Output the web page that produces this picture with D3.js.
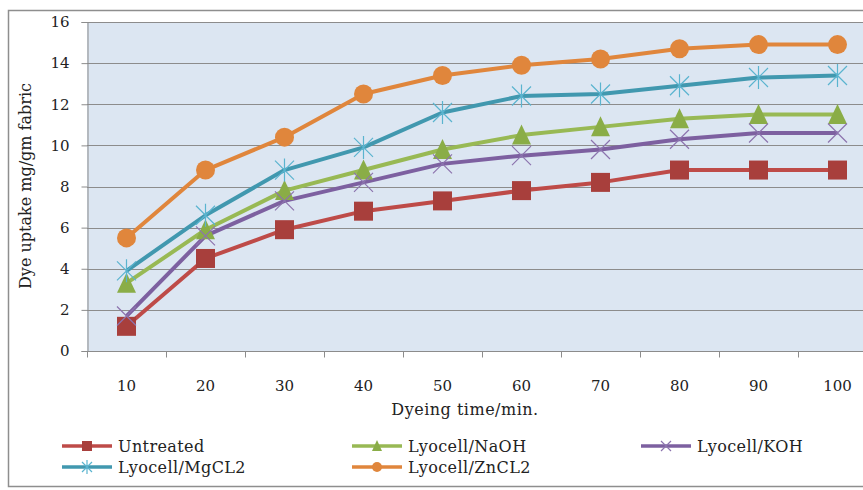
<!DOCTYPE html>
<html>
<head>
<meta charset="utf-8">
<script src="https://cdn.jsdelivr.net/npm/d3@7"></script>
<style>
  body { margin: 0; background: #fff; }
  svg { display: block; font-family: "DejaVu Serif", "Liberation Serif", serif; }
</style>
</head>
<body>
<svg id="chart" width="863" height="490"></svg>
<script>
// dyeing time categories (min)
const times = [10, 20, 30, 40, 50, 60, 70, 80, 90, 100];
const yTicks = [0, 2, 4, 6, 8, 10, 12, 14, 16];

// dye uptake, mg/gm fabric
const untreated = [1.2, 4.5, 5.9, 6.8, 7.3, 7.8, 8.2, 8.8, 8.8, 8.8];
const naoh      = [3.3, 5.9, 7.8, 8.8, 9.8, 10.5, 10.9, 11.3, 11.5, 11.5];
const koh       = [1.7, 5.6, 7.3, 8.2, 9.1, 9.5, 9.8, 10.3, 10.6, 10.6];
const mgcl2     = [3.9, 6.6, 8.8, 9.9, 11.6, 12.4, 12.5, 12.9, 13.3, 13.4];
const zncl2     = [5.5, 8.8, 10.4, 12.5, 13.4, 13.9, 14.2, 14.7, 14.9, 14.9];

const series = [
  { name: "Untreated",      values: untreated, color: "#BE4B48", marker: "square" },
  { name: "Lyocell/NaOH",   values: naoh,      color: "#98B954", marker: "triangle" },
  { name: "Lyocell/KOH",    values: koh,       color: "#7D60A0", marker: "x" },
  { name: "Lyocell/MgCL2",  values: mgcl2,     color: "#4198AF", marker: "star" },
  { name: "Lyocell/ZnCL2",  values: zncl2,     color: "#E0863C", marker: "circle" }
];

const margin = { left: 87, top: 22, right: 877, bottom: 351 };
const svg = d3.select("#chart");
const FS = 15;

// outer chart border
svg.append("rect")
  .attr("x", 8.5).attr("y", 10.5)
  .attr("width", 900).attr("height", 476)
  .attr("fill", "#fff")
  .attr("stroke", "#8E8E8E").attr("stroke-width", 1.5);

const x = d3.scaleBand().domain(times).range([margin.left, margin.right]);
const y = d3.scaleLinear().domain([0, 16]).range([margin.bottom, margin.top]);

// plot area
svg.append("rect")
  .attr("x", margin.left).attr("y", margin.top)
  .attr("width", margin.right - margin.left)
  .attr("height", margin.bottom - margin.top)
  .attr("fill", "#DCE6F2");

// gridlines
svg.append("g")
  .selectAll("line")
  .data(yTicks.filter(d => d > 0))
  .join("line")
  .attr("x1", margin.left).attr("x2", margin.right)
  .attr("y1", d => Math.round(y(d)) + 0.5).attr("y2", d => Math.round(y(d)) + 0.5)
  .attr("stroke", "#8C8C8C").attr("stroke-width", 1);

// y axis
const yAxis = svg.append("g")
  .attr("transform", `translate(${margin.left + 0.5},0)`)
  .call(d3.axisLeft(y).tickValues(yTicks).tickSize(6).tickPadding(12));
yAxis.select(".domain").attr("stroke", "#8C8C8C");
yAxis.selectAll(".tick line").attr("stroke", "#8C8C8C");
yAxis.selectAll("text").attr("font-size", FS).attr("fill", "#222")
  .attr("font-family", "DejaVu Serif, serif");

// x axis: ticks between categories
const xAxisG = svg.append("g")
  .attr("transform", `translate(0,${margin.bottom + 0.5})`);
xAxisG.append("line")
  .attr("x1", margin.left).attr("x2", margin.right)
  .attr("stroke", "#8C8C8C");
xAxisG.selectAll(".tk")
  .data(times)
  .join("line")
  .attr("x1", d => Math.round(x(d)) + 0.5).attr("x2", d => Math.round(x(d)) + 0.5)
  .attr("y1", 0).attr("y2", 6)
  .attr("stroke", "#8C8C8C");
xAxisG.selectAll("text")
  .data(times)
  .join("text")
  .attr("x", d => x(d) + x.bandwidth() / 2)
  .attr("y", 39)
  .attr("text-anchor", "middle")
  .attr("font-size", FS).attr("fill", "#222")
  .text(d => d);

// axis titles
svg.append("text")
  .attr("transform", "translate(31,186) rotate(-90)")
  .attr("text-anchor", "middle")
  .attr("font-size", 16).attr("fill", "#222")
  .text("Dye uptake mg/gm fabric");
svg.append("text")
  .attr("x", 465).attr("y", 415)
  .attr("text-anchor", "middle")
  .attr("font-size", 16).attr("fill", "#222")
  .attr("letter-spacing", 0.5)
  .text("Dyeing time/min.");

const cx = d => x(d) + x.bandwidth() / 2;

function drawMarker(g, type, color, s) {
  if (type === "square") {
    g.append("rect").attr("x", -s / 2).attr("y", -s / 2).attr("width", s).attr("height", s)
      .attr("fill", "#A83F3C");
  } else if (type === "circle") {
    g.append("circle").attr("r", s / 2).attr("fill", color);
  } else if (type === "triangle") {
    g.append("path").attr("d", `M0,${-s / 2 - 1}L${s / 2},${s / 2}L${-s / 2},${s / 2}Z`)
      .attr("fill", "#8AAD47");
  } else if (type === "x") {
    const h = s / 2;
    g.append("path").attr("d", `M${-h},${-h}L${h},${h}M${-h},${h}L${h},${-h}`)
      .attr("stroke", "#8C74AE").attr("stroke-width", 1.2).attr("fill", "none");
  } else if (type === "star") {
    const h = s / 2;
    g.append("path")
      .attr("d", `M${-h},${-h}L${h},${h}M${-h},${h}L${h},${-h}M0,${-h - 2}L0,${h + 2}`)
      .attr("stroke", "#5AB4CF").attr("stroke-width", 1.2).attr("fill", "none");
  }
}

const line = d3.line()
  .x((d, i) => cx(times[i]))
  .y(d => y(d));

series.forEach(s => {
  svg.append("path")
    .datum(s.values)
    .attr("d", line)
    .attr("fill", "none")
    .attr("stroke", s.color)
    .attr("stroke-width", 4)
    .attr("stroke-linejoin", "round");
});

series.forEach(s => {
  s.values.forEach((v, i) => {
    const g = svg.append("g").attr("transform", `translate(${cx(times[i])},${y(v)})`);
    drawMarker(g, s.marker, s.color, 19);
  });
});

// legend
const legendPos = [
  { x: 62, y: 446 }, { x: 352, y: 446 }, { x: 641, y: 446 },
  { x: 62, y: 467 }, { x: 352, y: 467 }
];
series.forEach((s, i) => {
  const p = legendPos[i];
  const g = svg.append("g").attr("transform", `translate(${p.x},${p.y})`);
  g.append("line").attr("x1", 0).attr("x2", 50).attr("y1", 0).attr("y2", 0)
    .attr("stroke", s.color).attr("stroke-width", 3.5);
  const m = g.append("g").attr("transform", "translate(25,0)");
  drawMarker(m, s.marker, s.color, 10);
  g.append("text").attr("x", 56).attr("y", 6)
    .attr("font-size", 16).attr("fill", "#222")
    .attr("letter-spacing", 0.4)
    .text(s.name);
});
</script>
</body>
</html>
